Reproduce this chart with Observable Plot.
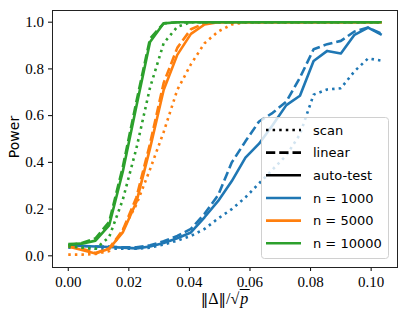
<!DOCTYPE html>
<html>
<head>
<meta charset="utf-8">
<script src="https://cdn.jsdelivr.net/npm/d3@7"></script>
<script src="https://cdn.jsdelivr.net/npm/@observablehq/plot@0.6"></script>
<style>
  html, body { margin: 0; padding: 0; background: white; }
  #wrap { position: relative; width: 407px; height: 318px; }
  #chart svg text { font-family: "Liberation Serif", "DejaVu Serif", serif !important; }
  #ylab { position: absolute; left: 14px; top: 137px; transform: translate(-50%, -50%) rotate(-90deg);
          font-family: "DejaVu Sans", sans-serif; font-size: 14px; white-space: nowrap; color: #000; }
  #xlab { position: absolute; left: 225px; top: 291px; transform: translateX(-50%);
          font-family: "Liberation Serif", serif; font-size: 16px; white-space: nowrap; color: #000; line-height: 1; }
  #xlab .bar { font-family: "DejaVu Serif", serif; font-size: 15px; }
  #xlab .rad { border-top: 1px solid #000; font-style: italic; padding: 0 1px; }
  #legend { position: absolute; left: 261px; top: 117px; }
</style>
</head>
<body>
<div id="wrap">
  <div id="chart"></div>
  <div id="ylab">Power</div>
  <div id="xlab"><span class="bar">‖</span>Δ<span class="bar">‖</span>/√<span class="rad">p</span></div>
  <svg id="legend" width="128" height="142"></svg>
</div>
<script>
// x grid: ||Delta|| / sqrt(p)
const delta = [0, 0.0045, 0.009, 0.0135, 0.018, 0.0225, 0.027, 0.0315, 0.036, 0.0405, 0.045, 0.0495,
               0.054, 0.0585, 0.063, 0.0675, 0.072, 0.0765, 0.081, 0.0855, 0.09, 0.0945, 0.099, 0.1035];

// n = 1000
const n1000_scan   = [0.035, 0.035, 0.030, 0.030, 0.030, 0.030, 0.035, 0.048, 0.065, 0.085, 0.115, 0.160,
                      0.200, 0.250, 0.310, 0.370, 0.430, 0.520, 0.690, 0.712, 0.717, 0.790, 0.845, 0.835];
const n1000_linear = [0.045, 0.042, 0.040, 0.040, 0.036, 0.036, 0.045, 0.062, 0.085, 0.115, 0.180, 0.260,
                      0.400, 0.490, 0.575, 0.612, 0.660, 0.763, 0.884, 0.906, 0.920, 0.960, 0.977, 0.950];
const n1000_auto   = [0.043, 0.042, 0.040, 0.038, 0.035, 0.032, 0.040, 0.055, 0.075, 0.100, 0.165, 0.235,
                      0.320, 0.420, 0.480, 0.560, 0.645, 0.685, 0.834, 0.877, 0.866, 0.946, 0.977, 0.946];
// n = 5000
const n5000_scan   = [0.005, 0.005, 0.008, 0.020, 0.110, 0.220, 0.370, 0.530, 0.710, 0.820, 0.910, 0.960,
                      0.990, 1.000, 1.000, 1.000, 1.000, 1.000, 1.000, 1.000, 1.000, 1.000, 1.000, 1.000];
const n5000_linear = [0.040, 0.030, 0.012, 0.032, 0.110, 0.250, 0.480, 0.740, 0.890, 0.970, 0.995, 1.000,
                      1.000, 1.000, 1.000, 1.000, 1.000, 1.000, 1.000, 1.000, 1.000, 1.000, 1.000, 1.000];
const n5000_auto   = [0.040, 0.025, 0.010, 0.030, 0.100, 0.230, 0.460, 0.710, 0.860, 0.950, 0.990, 1.000,
                      1.000, 1.000, 1.000, 1.000, 1.000, 1.000, 1.000, 1.000, 1.000, 1.000, 1.000, 1.000];
// n = 10000
const n10000_scan   = [0.040, 0.035, 0.030, 0.080, 0.240, 0.460, 0.720, 0.910, 0.980, 1.000, 1.000, 1.000,
                       1.000, 1.000, 1.000, 1.000, 1.000, 1.000, 1.000, 1.000, 1.000, 1.000, 1.000, 1.000];
const n10000_linear = [0.045, 0.055, 0.075, 0.145, 0.380, 0.660, 0.930, 0.995, 1.000, 1.000, 1.000, 1.000,
                       1.000, 1.000, 1.000, 1.000, 1.000, 1.000, 1.000, 1.000, 1.000, 1.000, 1.000, 1.000];
const n10000_auto   = [0.050, 0.052, 0.065, 0.130, 0.360, 0.640, 0.915, 0.995, 1.000, 1.000, 1.000, 1.000,
                       1.000, 1.000, 1.000, 1.000, 1.000, 1.000, 1.000, 1.000, 1.000, 1.000, 1.000, 1.000];

const sizes = ["n = 1000", "n = 5000", "n = 10000"];
const methods = ["scan", "linear", "auto-test"];
const xTicks = [0, 0.02, 0.04, 0.06, 0.08, 0.10];
const yTicks = [0, 0.2, 0.4, 0.6, 0.8, 1.0];

const values = {
  "n = 1000":  {"scan": n1000_scan,  "linear": n1000_linear,  "auto-test": n1000_auto},
  "n = 5000":  {"scan": n5000_scan,  "linear": n5000_linear,  "auto-test": n5000_auto},
  "n = 10000": {"scan": n10000_scan, "linear": n10000_linear, "auto-test": n10000_auto}
};

// styles
const colors = {"n = 1000": "#1f77b4", "n = 5000": "#ff7f0e", "n = 10000": "#2ca02c"};
const dashes = {"scan": "2.5,4.1", "linear": "9.25,4", "auto-test": null};
const LW = 2.6;

const lineMarks = [];
for (const s of sizes) {
  for (const m of methods) {
    const data = delta.map((d, i) => ({x: d, y: values[s][m][i]}));
    const opts = {x: "x", y: "y", stroke: colors[s], strokeWidth: LW, strokeLinecap: "butt", strokeLinejoin: "round"};
    if (dashes[m]) opts.strokeDasharray = dashes[m];
    lineMarks.push(Plot.line(data, opts));
  }
}

const serif = "'Liberation Serif', 'DejaVu Serif', serif";
const chart = Plot.plot({
  width: 407,
  height: 318,
  marginLeft: 52,
  marginRight: 10,
  marginTop: 10,
  marginBottom: 51,
  style: {fontFamily: serif, fontSize: "15px", color: "#000", background: "white"},
  x: {domain: [-0.0052, 0.1087]},
  y: {domain: [-0.05, 1.05]},
  marks: [
    Plot.axisX({ticks: xTicks, tickFormat: d3.format(".2f"), tickSize: 4, tickPadding: 5, label: null, fontSize: 15, fontFamily: serif}),
    Plot.axisY({ticks: yTicks, tickFormat: d3.format(".1f"), tickSize: 4, tickPadding: 4.5, label: null, fontSize: 15, fontFamily: serif}),
    ...lineMarks,
    Plot.frame({stroke: "#222", strokeWidth: 1})
  ]
});
document.getElementById("chart").appendChild(chart);

// legend
const lg = d3.select("#legend");
lg.append("rect").attr("x", 0.5).attr("y", 0.5).attr("width", 127).attr("height", 141)
  .attr("rx", 3).attr("fill", "white").attr("fill-opacity", 0.8).attr("stroke", "#d0d0d0");
const entries = [
  {label: "scan", color: "#000", dash: dashes["scan"]},
  {label: "linear", color: "#000", dash: dashes["linear"]},
  {label: "auto-test", color: "#000", dash: null},
  ...sizes.map(s => ({label: s, color: colors[s], dash: null}))
];
entries.forEach((e, k) => {
  const cy = 13 + k * 22.65;
  const ln = lg.append("line").attr("x1", 5).attr("x2", 40).attr("y1", cy).attr("y2", cy)
    .attr("stroke", e.color).attr("stroke-width", LW).attr("stroke-linecap", "butt");
  if (e.dash) ln.attr("stroke-dasharray", e.dash);
  lg.append("text").attr("x", 52).attr("y", cy).attr("dy", "0.35em")
    .attr("font-family", "DejaVu Sans, sans-serif").attr("font-size", 13).attr("fill", "#000")
    .text(e.label);
});
</script>
</body>
</html>
